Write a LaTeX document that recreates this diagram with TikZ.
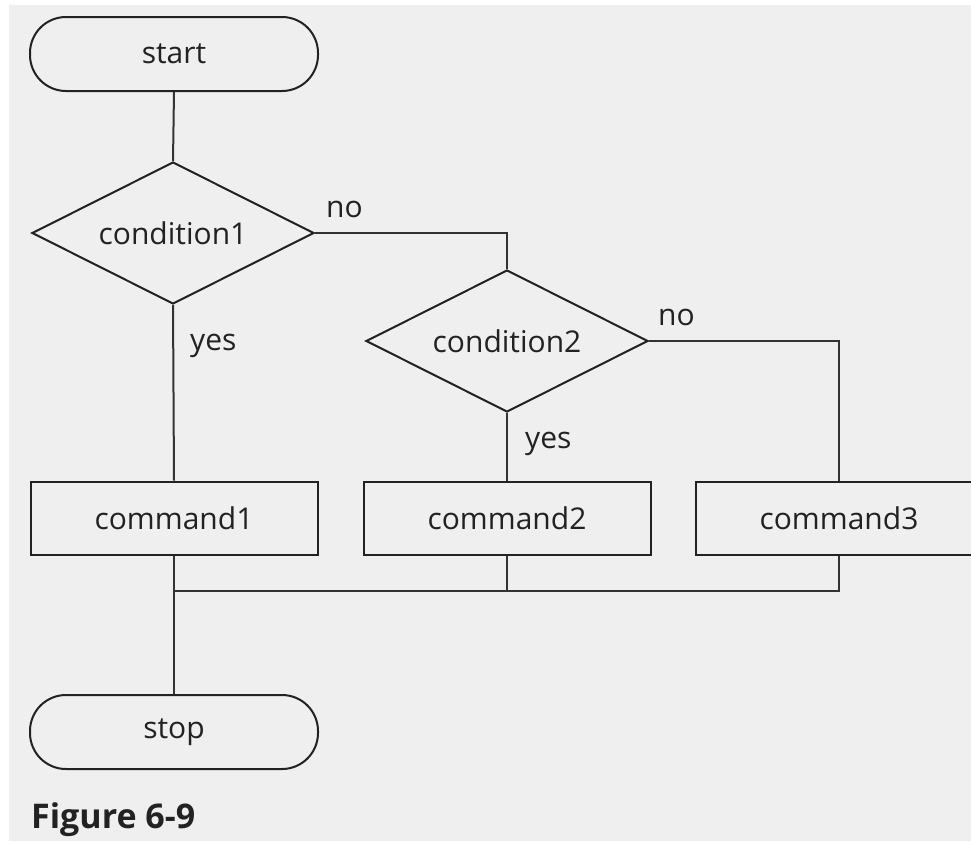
\documentclass[tikz,border=0pt]{standalone}
\usepackage{fontspec}
\setmainfont{Open Sans}
\usetikzlibrary{shapes.geometric}
\definecolor{paper}{HTML}{EFEFEF}
\definecolor{ink}{HTML}{222222}
\definecolor{wire}{HTML}{333333}
\begin{document}
\begin{tikzpicture}[x=1pt,y=-1pt,
  every node/.style={font=\fontsize{30}{36}\selectfont, text=ink},
  terminal/.style={draw=ink, line width=2pt, rectangle, rounded corners=36pt,
    minimum width=288pt, minimum height=74pt, inner sep=0pt},
  decision/.style={draw=ink, line width=2pt, diamond, aspect=2,
    minimum width=282pt, minimum height=142pt, inner sep=0pt},
  process/.style={draw=ink, line width=2pt, rectangle, minimum width=287pt,
    minimum height=73pt, inner sep=0pt},
  conn/.style={draw=wire, line width=2pt},
  lbl/.style={anchor=base west, inner sep=0pt}
]
\useasboundingbox (0,0) rectangle (971,841);
\clip (0,0) rectangle (971,841);
\fill[white] (0,0) rectangle (971,841);
\fill[paper] (9,5) rectangle (971,841);

% shapes
\node[terminal] (start) at (174,54) {start};
\node[decision] (c1) at (173,233) {condition1};
\node[decision] (c2) at (507,341) {condition2};
\node[process] (k1) at (174,518) {command1};
\node[process] (k2) at (507,518) {command2};
\node[process] (k3) at (839,518) {command3};
\node[terminal] (stop) at (174,732) {stop};

% connectors
\coordinate (join) at (174,591);
\draw[conn] (start.south) -- (c1.north);
\draw[conn] (c1.south) -- (k1.north);
\draw[conn] (c1.east) -| (c2.north);
\draw[conn] (c2.south) -- (k2.north);
\draw[conn] (c2.east) -| (k3.north);
\draw[conn] (k1.south) -- (stop.north);
\draw[conn] (k3.south) |- (join);
\draw[conn] (k2.south) -- (k2.south |- join);

% branch labels
\node[lbl] (n1) at (326,217) {no};
\node[lbl] (y1) at (190,350) {yes};
\node[lbl] (n2) at (658,325) {no};
\node[lbl] (y2) at (525,448) {yes};

% caption
\node[anchor=base west, inner sep=0pt, font=\fontsize{34}{40}\selectfont\bfseries] (cap) at (31,828) {Figure 6-9};
\end{tikzpicture}
\end{document}
